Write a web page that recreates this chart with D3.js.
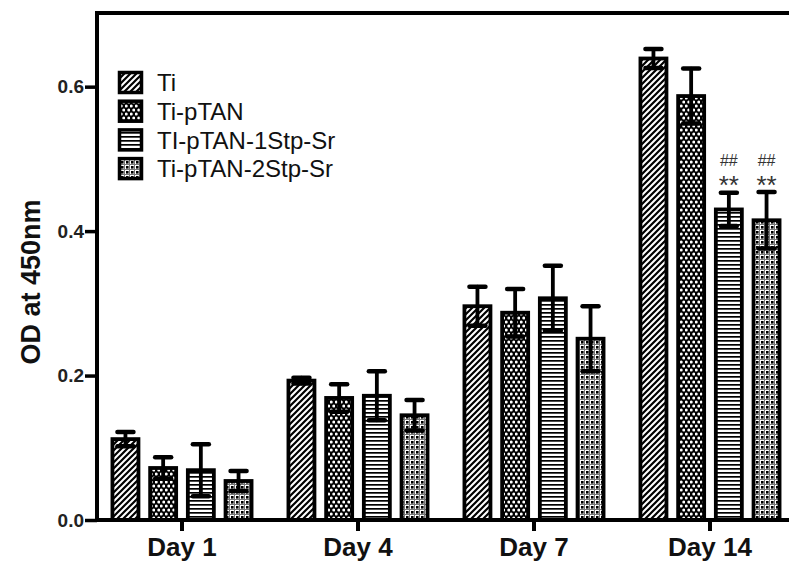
<!DOCTYPE html>
<html><head><meta charset="utf-8">
<script src="https://cdn.jsdelivr.net/npm/d3@7"></script>
<style>
html,body{margin:0;padding:0;background:#fff;}
svg{display:block;font-family:Arial,"Liberation Sans",sans-serif;}
</style></head>
<body>
<svg id="chart" width="789" height="565"></svg>
<script>
const days = ["Day 1", "Day 4", "Day 7", "Day 14"];
const series = ["Ti", "Ti-pTAN", "TI-pTAN-1Stp-Sr", "Ti-pTAN-2Stp-Sr"];
const tiVals = [0.112, 0.193, 0.296, 0.639];
const tiErr = [0.010, 0.004, 0.027, 0.013];
const ptanVals = [0.072, 0.169, 0.287, 0.587];
const ptanErr = [0.015, 0.019, 0.033, 0.038];
const s1Vals = [0.069, 0.172, 0.307, 0.430];
const s1Err = [0.036, 0.034, 0.045, 0.023];
const s2Vals = [0.054, 0.145, 0.251, 0.415];
const s2Err = [0.014, 0.021, 0.045, 0.039];
const yTicks = [0.0, 0.2, 0.4, 0.6];
const annotations = [
  {day: "Day 14", series: "TI-pTAN-1Stp-Sr", top: "##", bottom: "**"},
  {day: "Day 14", series: "Ti-pTAN-2Stp-Sr", top: "##", bottom: "**"}
];

const allVals = [tiVals, ptanVals, s1Vals, s2Vals];
const allErr = [tiErr, ptanErr, s1Err, s2Err];
const data = [];
days.forEach((d, i) => series.forEach((s, j) => data.push({day: d, series: s, v: allVals[j][i], e: allErr[j][i]})));

const svg = d3.select("#chart");
const defs = svg.append("defs");

// patterns
const pDiag = defs.append("pattern").attr("id", "p0").attr("patternUnits", "userSpaceOnUse").attr("width", 6).attr("height", 6);
pDiag.append("rect").attr("width", 6).attr("height", 6).attr("fill", "#fff");
pDiag.append("path").attr("d", "M-1,1 L1,-1 M0,6 L6,0 M5,7 L7,5").attr("stroke", "#000").attr("stroke-width", 2.2);

const pDots = defs.append("pattern").attr("id", "p1").attr("patternUnits", "userSpaceOnUse").attr("width", 5).attr("height", 8);
pDots.append("rect").attr("width", 5).attr("height", 8).attr("fill", "#000");
[[1.25, 2], [3.75, 6]].forEach(c => pDots.append("circle").attr("cx", c[0]).attr("cy", c[1]).attr("r", 1.5).attr("fill", "#fff"));

const pHor = defs.append("pattern").attr("id", "p2").attr("patternUnits", "userSpaceOnUse").attr("width", 4).attr("height", 4);
pHor.append("rect").attr("width", 4).attr("height", 4).attr("fill", "#fff");
pHor.append("rect").attr("y", 0).attr("width", 4).attr("height", 1.7).attr("fill", "#000");

const pGrid = defs.append("pattern").attr("id", "p3").attr("patternUnits", "userSpaceOnUse").attr("width", 5).attr("height", 5);
pGrid.append("rect").attr("width", 5).attr("height", 5).attr("fill", "#fff");
pGrid.append("path").attr("d", "M0,4.5 H5 M4.5,0 V5").attr("stroke", "#777").attr("stroke-width", 1);
pGrid.append("rect").attr("x", 1).attr("y", 1).attr("width", 2.6).attr("height", 2.6).attr("fill", "#000");

const patternOf = s => "url(#p" + series.indexOf(s) + ")";

const y = d3.scaleLinear().domain([0, 0.702]).range([520, 13]);
const x = d3.scaleBand().domain(days).range([94, 798]);
const inner = d3.scaleBand().domain(series).range([-75.4, 75.4]).paddingInner(0.31).paddingOuter(0.155);
const cx = d => x(d.day) + x.bandwidth() / 2 + inner(d.series) + inner.bandwidth() / 2;

// bars
svg.append("g").selectAll("rect").data(data).join("rect")
  .attr("x", d => x(d.day) + x.bandwidth() / 2 + inner(d.series))
  .attr("y", d => y(d.v))
  .attr("width", inner.bandwidth())
  .attr("height", d => y(0) - y(d.v))
  .attr("fill", d => patternOf(d.series))
  .attr("stroke", "#000").attr("stroke-width", 3.8);

// error bars
const eg = svg.append("g").attr("stroke", "#000").attr("stroke-width", 3.8).attr("stroke-linecap", "round");
eg.selectAll("line.v").data(data).join("line").attr("class", "v")
  .attr("x1", cx).attr("x2", cx)
  .attr("y1", d => y(d.v - d.e)).attr("y2", d => y(d.v + d.e));
eg.selectAll("line.t").data(data).join("line").attr("class", "t")
  .attr("x1", d => cx(d) - 8).attr("x2", d => cx(d) + 8)
  .attr("y1", d => y(d.v + d.e)).attr("y2", d => y(d.v + d.e)).attr("stroke-width", 4.5);
eg.selectAll("line.b").data(data).join("line").attr("class", "b")
  .attr("x1", d => cx(d) - 8).attr("x2", d => cx(d) + 8)
  .attr("y1", d => y(d.v - d.e)).attr("y2", d => y(d.v - d.e)).attr("stroke-width", 4.5);

// frame lines
svg.append("line").attr("x1", 95).attr("x2", 789).attr("y1", 13).attr("y2", 13).attr("stroke", "#000").attr("stroke-width", 4);
svg.append("line").attr("x1", 95).attr("x2", 789).attr("y1", 520).attr("y2", 520).attr("stroke", "#000").attr("stroke-width", 4);

// y axis
const ya = svg.append("g").attr("transform", "translate(97,0)")
  .call(d3.axisLeft(y).tickValues(yTicks).tickFormat(d3.format(".1f")).tickSize(12).tickSizeOuter(0).tickPadding(1));
ya.select(".domain").attr("stroke-width", 4).attr("d", "M0,11V522");
ya.selectAll(".tick line").attr("stroke-width", 3.5);
ya.selectAll(".tick text").attr("font-size", 19).attr("font-weight", "bold").attr("fill", "#222").attr("font-family", "Arial, 'Liberation Sans', sans-serif");

// x axis
const xa = svg.append("g").attr("transform", "translate(0,520)")
  .call(d3.axisBottom(x).tickSize(11).tickSizeOuter(0).tickPadding(7));
xa.select(".domain").remove();
xa.selectAll(".tick line").attr("stroke-width", 4);
xa.selectAll(".tick text").attr("font-size", 26).attr("font-weight", "bold").attr("fill", "#111").attr("font-family", "Arial, 'Liberation Sans', sans-serif");

// y title
svg.append("text").attr("transform", "translate(40,282) rotate(-90)")
  .attr("text-anchor", "middle").attr("font-size", 27).attr("font-weight", "bold").attr("fill", "#111")
  .text("OD at 450nm");

// legend
const lg = svg.append("g");
series.forEach((s, i) => {
  const cy = 82.5 + i * 28.7;
  lg.append("rect").attr("x", 119.5).attr("y", cy - 10).attr("width", 22).attr("height", 20)
    .attr("fill", patternOf(s)).attr("stroke", "#000").attr("stroke-width", 3.5);
  lg.append("text").attr("x", 157).attr("y", cy).attr("dy", "0.36em")
    .attr("font-size", 24).attr("fill", "#111").text(s);
});

// annotations
annotations.forEach(a => {
  const d = data.find(q => q.day === a.day && q.series === a.series);
  const xx = cx(d);
  svg.append("text").attr("x", xx).attr("y", 166).attr("text-anchor", "middle")
    .attr("font-size", 16).attr("fill", "#333").text(a.top);
  svg.append("text").attr("x", xx).attr("y", 194).attr("text-anchor", "middle")
    .attr("font-size", 26).attr("fill", "#333").text(a.bottom);
});
</script>
</body></html>
